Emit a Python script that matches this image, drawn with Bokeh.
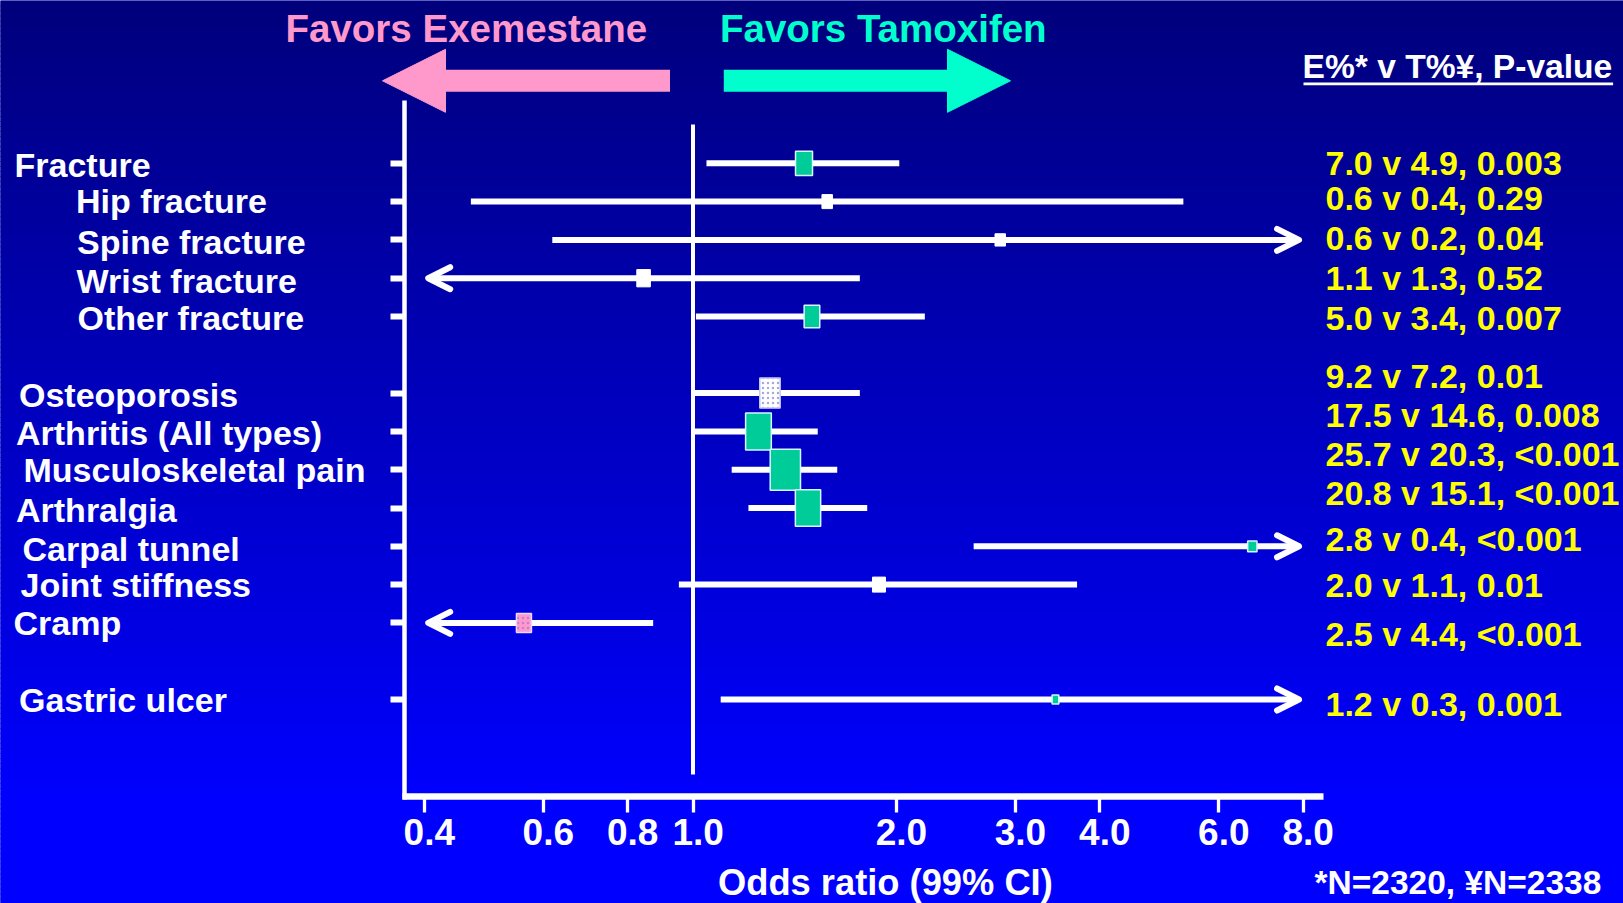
import numpy as np
from bokeh.plotting import figure
from bokeh.models import (ColumnDataSource, Range1d, LogAxis, LinearAxis, FixedTicker,
                          PrintfTickFormatter, Arrow, OpenHead, NormalHead)
from bokeh.core.properties import value
from bokeh.embed import file_html
from bokeh.resources import INLINE

W, H = 1623, 903

# ---------------------------------------------------------------- data
categories = ["Fracture", "Hip fracture", "Spine fracture", "Wrist fracture",
              "Other fracture", "Osteoporosis", "Arthritis (All types)",
              "Musculoskeletal pain", "Arthralgia", "Carpal tunnel",
              "Joint stiffness", "Cramp", "Gastric ulcer"]
odds_ratio = [1.46, 1.58, 2.85, 0.845, 1.50, 1.30, 1.25, 1.37, 1.48, 6.73, 1.885, 0.562, 3.44]
# None = interval runs off the plotted scale
ci_low = [1.047, 0.469, 0.619, None, 1.01, 1.0, 1.0, 1.141, 1.208, 2.603, 0.953, None, 1.099]
ci_high = [2.02, 5.32, None, 1.766, 2.204, 1.766, 1.53, 1.635, 1.811, None, 3.703, 0.873, None]
exemestane_pct = [7.0, 0.6, 0.6, 1.1, 5.0, 9.2, 17.5, 25.7, 20.8, 2.8, 2.0, 2.5, 1.2]
tamoxifen_pct = [4.9, 0.4, 0.2, 1.3, 3.4, 7.2, 14.6, 20.3, 15.1, 0.4, 1.1, 4.4, 0.3]
p_values = ["0.003", "0.29", "0.04", "0.52", "0.007", "0.01", "0.008", "<0.001",
            "<0.001", "<0.001", "0.01", "<0.001", "0.001"]
x_ticks = [0.4, 0.6, 0.8, 1.0, 2.0, 3.0, 4.0, 6.0, 8.0]
ref_value = 1.0

# ---------------------------------------------------------------- layout / style
row_slot = [0, 1, 2, 3, 4, 6, 7, 8, 9, 10, 11, 12, 14]
label_indent = [14, 75.5, 76.5, 76, 77, 18.5, 15.5, 23, 15.5, 22, 20, 13, 18.5]
label_dy = [2, -1, 2, 3, 1, 2, 2, 0, 2, 3, 0, 0, 0]
value_dy = [-0.3, -3.3, -1.9, -0.2, 1.5, -17.6, -16.6, -15.9, -14.8, -7.5, 0.2, 10.9, 4.0]
box_w = [17, 10.5, 10.5, 13.6, 15.6, 20.4, 25.7, 30.3, 25.3, 9.3, 13, 15, 6.7]
box_h = [24.3, 14, 12.3, 17.3, 22.3, 30, 37, 41, 36.3, 10.7, 15, 19, 9]
box_style = ["teal", "white", "white", "white", "teal", "dotted", "teal", "teal",
             "teal", "teal", "white", "pink", "teal"]

TEAL = "#00CC99"
PINK = "#FF99CC"
AQUA = "#00FFCC"
YELLOW = "#FFFF00"
FONT_NAME = "Liberation Sans"
FONT = value(FONT_NAME)

# pixel <-> data helpers (log x, evenly spaced rows)
PX_AT_ONE, PX_PER_DECADE = 692.5, 675.5
ROW_PX0, ROW_STEP = 162.8, 38.3


def x_at(px):
    return 10 ** ((px - PX_AT_ONE) / PX_PER_DECADE)


def y_at(py):
    return (py - ROW_PX0) / ROW_STEP


def nudge(v, px):
    """Move a log-scale value by a number of pixels."""
    return v * 10 ** (px / PX_PER_DECADE)


p = figure(width=W, height=H, output_backend="svg", toolbar_location=None,
           x_axis_type="log", x_axis_location=None, y_axis_location=None,
           x_range=Range1d(x_at(0), x_at(W)), y_range=Range1d(y_at(H), y_at(0)),
           min_border=0, outline_line_color=None)
p.xgrid.grid_line_color = None
p.ygrid.grid_line_color = None
p.background_fill_color = "#0000B0"
p.border_fill_color = "#0000B0"

# background: navy to bright blue, top to bottom
n_strips = 180
edges = np.linspace(0, H, n_strips + 1)
mid = (edges[:-1] + edges[1:]) / 2
blue = np.clip(124 + 131 * mid / 800, 0, 255).astype(int)
p.quad(left=x_at(-5), right=x_at(W + 5),
       top=[y_at(t) for t in edges[:-1]], bottom=[y_at(b + 1.0) for b in edges[1:]],
       fill_color=["#0000%02x" % b for b in blue], line_color=None)

# line of no effect
p.segment(x0=ref_value, x1=ref_value, y0=y_at(124), y1=y_at(774),
          line_color="white", line_width=4)

# confidence intervals, clipped to the plotted scale
lo_draw = [lo if lo is not None else nudge(x_ticks[0], 4) for lo in ci_low]
hi_draw = [hi if hi is not None else nudge(x_ticks[-1], -4) for hi in ci_high]
ci_src = ColumnDataSource(dict(x0=lo_draw, x1=hi_draw, y=row_slot))
p.segment(x0="x0", x1="x1", y0="y", y1="y", source=ci_src,
          line_color="white", line_width=6, line_cap="butt")

# open arrowheads where the interval leaves the scale
arr = dict(xs=[], xe=[], y=[])
for orv, lo, hi, y in zip(odds_ratio, ci_low, ci_high, row_slot):
    if lo is None:
        arr["xs"].append(orv); arr["xe"].append(nudge(x_ticks[0], 4)); arr["y"].append(y)
    if hi is None:
        arr["xs"].append(orv); arr["xe"].append(nudge(x_ticks[-1], -4)); arr["y"].append(y)
p.add_layout(Arrow(end=OpenHead(size=22, line_color="white", line_width=6,
                                line_cap="round", line_join="round"),
                   x_start="xs", y_start="y", x_end="xe", y_end="y",
                   line_alpha=0, source=ColumnDataSource(arr)))

# point estimates
src_box = {}
for style in ("teal", "white", "dotted", "pink"):
    idx = [i for i, s in enumerate(box_style) if s == style]
    src_box[style] = ColumnDataSource(dict(
        x=[odds_ratio[i] for i in idx], y=[row_slot[i] for i in idx],
        w=[box_w[i] for i in idx], h=[box_h[i] for i in idx]))

p.rect(x="x", y="y", width="w", height="h", width_units="screen", height_units="screen",
       source=src_box["teal"], fill_color=TEAL, line_color="#D8F4FF", line_width=1.5)
p.rect(x="x", y="y", width="w", height="h", width_units="screen", height_units="screen",
       source=src_box["white"], fill_color="white", line_color="white", line_width=1)
p.rect(x="x", y="y", width="w", height="h", width_units="screen", height_units="screen",
       source=src_box["dotted"], fill_color="white", line_color="#C8C8F0", line_width=1.5,
       hatch_pattern="dot", hatch_color="#A8A8E0", hatch_scale=5, hatch_weight=1.5)
p.rect(x="x", y="y", width="w", height="h", width_units="screen", height_units="screen",
       source=src_box["pink"], fill_color=PINK, line_color="#E8D8FF", line_width=1.5,
       hatch_pattern="dot", hatch_color="#C080D0", hatch_scale=5, hatch_weight=1.5)

# axes
xaxis = LogAxis(fixed_location=y_at(796), bounds=(x_at(402), x_at(1323)),
                ticker=FixedTicker(ticks=x_ticks),
                formatter=PrintfTickFormatter(format="\u00a0%.1f"),
                axis_line_color="white", axis_line_width=6.5,
                major_tick_line_color="white", major_tick_line_width=3.3,
                major_tick_in=0, major_tick_out=16,
                minor_tick_line_color=None,
                major_label_standoff=-1,
                major_label_text_color="white", major_label_text_font=FONT_NAME,
                major_label_text_font_style="bold", major_label_text_font_size="37px")
p.add_layout(xaxis, "below")

yaxis = LinearAxis(fixed_location=x_at(404), bounds=(y_at(100), y_at(799)),
                   ticker=FixedTicker(ticks=row_slot),
                   axis_line_color="white", axis_line_width=4.5,
                   major_tick_line_color="white", major_tick_line_width=6,
                   major_tick_in=0, major_tick_out=14,
                   minor_tick_line_color=None,
                   major_label_text_color=None)
p.add_layout(yaxis, "left")

# row labels
label_src = ColumnDataSource(dict(x=[x_at(px) for px in label_indent], y=row_slot,
                                  text=categories, dy=label_dy))
p.text(x="x", y="y", text="text", y_offset="dy", source=label_src,
       text_font=FONT, text_font_style="bold", text_font_size="34px",
       text_color="white", text_align="left", text_baseline="middle")

# event rates and p-values
value_text = [f"{e:.1f} v {t:.1f}, {pv}" for e, t, pv in
              zip(exemestane_pct, tamoxifen_pct, p_values)]
p.text(x=x_at(1325), y=row_slot, text=value_text, y_offset=value_dy,
       text_font=FONT, text_font_style="bold", text_font_size="34px",
       text_color=YELLOW, text_align="left", text_baseline="middle")

# header of the value column, underlined
p.text(x=[x_at(1302)], y=[y_at(65.5)], text=["E%* v T%¥, P-value"],
       text_font=FONT, text_font_style="bold", text_font_size="33.6px",
       text_color="white", text_align="left", text_baseline="middle")
p.segment(x0=x_at(1303), x1=x_at(1612.6), y0=y_at(83.3), y1=y_at(83.3),
          line_color="white", line_width=2.8)

# direction arrows and captions
p.add_layout(Arrow(end=NormalHead(size=63, fill_color=PINK, line_color=PINK, line_width=1),
                   x_start=x_at(669.5), y_start=y_at(80.3),
                   x_end=x_at(382), y_end=y_at(80.3),
                   line_color=PINK, line_width=22))
p.add_layout(Arrow(end=NormalHead(size=63, fill_color=AQUA, line_color=AQUA, line_width=1),
                   x_start=x_at(723.3), y_start=y_at(80.3),
                   x_end=x_at(1010), y_end=y_at(80.3),
                   line_color=AQUA, line_width=22))
p.text(x=[x_at(285)], y=[y_at(27.5)], text=["Favors Exemestane"],
       text_font=FONT, text_font_style="bold", text_font_size="38.5px",
       text_color=PINK, text_align="left", text_baseline="middle")
p.text(x=[x_at(719.5)], y=[y_at(27.5)], text=["Favors Tamoxifen"],
       text_font=FONT, text_font_style="bold", text_font_size="38.5px",
       text_color=AQUA, text_align="left", text_baseline="middle")

# axis title and footnote
p.text(x=[x_at(717.5)], y=[y_at(882)], text=["Odds ratio (99% CI)"],
       text_font=FONT, text_font_style="bold", text_font_size="36.3px",
       text_color="white", text_align="left", text_baseline="middle")
p.text(x=[x_at(1314)], y=[y_at(882)], text=["*N=2320, ¥N=2338"],
       text_font=FONT, text_font_style="bold", text_font_size="33.5px",
       text_color="white", text_align="left", text_baseline="middle")

open("out.html", "w").write(file_html(p, INLINE))
